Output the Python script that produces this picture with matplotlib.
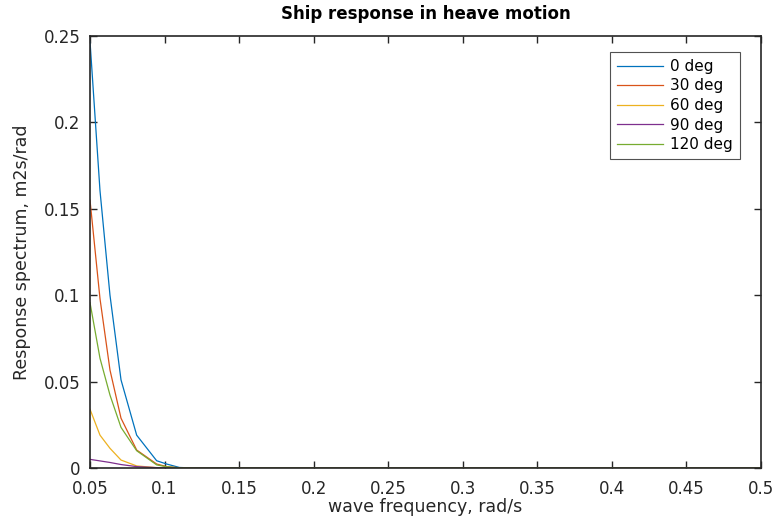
import matplotlib
matplotlib.use("Agg")
import matplotlib.pyplot as plt

plt.rcParams['font.family'] = ['DejaVu Sans']

freq = [0.05, 0.0567, 0.0634, 0.0708, 0.0813, 0.0947, 0.1014, 0.11, 0.12,
        0.15, 0.2, 0.25, 0.3, 0.35, 0.4, 0.45, 0.5]
s0 = [0.247, 0.1605, 0.100, 0.051, 0.019, 0.0042, 0.0023, 0.0003, 0.0,
      0, 0, 0, 0, 0, 0, 0, 0]
s30 = [0.155, 0.098, 0.0567, 0.0288, 0.0104, 0.0023, 0.0008, 0.0001, 0.0,
       0, 0, 0, 0, 0, 0, 0, 0]
s60 = [0.034, 0.019, 0.0114, 0.0046, 0.0012, 0.0002, 0.0001, 0.0, 0.0,
       0, 0, 0, 0, 0, 0, 0, 0]
s90 = [0.005, 0.0041, 0.0032, 0.002, 0.0008, 0.0002, 0.0001, 0.0, 0.0,
       0, 0, 0, 0, 0, 0, 0, 0]
s120 = [0.0957, 0.0635, 0.0422, 0.0235, 0.010, 0.0018, 0.0007, 0.0001, 0.0,
        0, 0, 0, 0, 0, 0, 0, 0]
labels = ['0 deg', '30 deg', '60 deg', '90 deg', '120 deg']
colors = ['#0072BD', '#D95319', '#EDB120', '#7E2F8E', '#77AC30']
xticks = [0.05, 0.1, 0.15, 0.2, 0.25, 0.3, 0.35, 0.4, 0.45, 0.5]
yticks = [0, 0.05, 0.1, 0.15, 0.2, 0.25]

fig = plt.figure(figsize=(7.74, 5.21), dpi=100)
ax = fig.add_axes([90/774, 1-468/521, (761-90)/774, (468-36)/521])
for s, lab, c in zip([s0, s30, s60, s90, s120], labels, colors):
    ax.plot(freq, s, color=c, lw=0.9, label=lab)

ax.set_xlim(0.05, 0.5)
ax.set_ylim(0, 0.25)
ax.set_xticks(xticks)
ax.set_xticklabels([('%g' % t) for t in xticks])
ax.set_yticks(yticks)
ax.set_yticklabels([('%g' % t) for t in yticks])
ax.tick_params(axis='both', direction='in', top=True, right=True, length=5,
               width=1, labelsize=12, colors='#262626')
ax.tick_params(axis='x', pad=9)
ax.tick_params(axis='y', pad=7)
for sp in ax.spines.values():
    sp.set_linewidth(1.2)
    sp.set_color('#262626')
ax.set_xlabel('wave frequency, rad/s', fontsize=12.5, color='#262626', labelpad=0)
ax.set_ylabel('Response spectrum, m2s/rad', fontsize=12.5, color='#262626', labelpad=9)
ax.set_title('Ship response in heave motion', fontsize=12, fontweight='bold',
             color='black', pad=12)
leg = ax.legend(loc='upper right', bbox_to_anchor=((740-90)/671, 1-(52-36)/432),
                borderaxespad=0, fontsize=11, frameon=True, fancybox=False,
                edgecolor='#262626', handlelength=3.0, borderpad=0.45,
                labelspacing=0.3, handletextpad=0.5)
leg.get_frame().set_linewidth(0.8)

fig.savefig('out.png', dpi=100)
